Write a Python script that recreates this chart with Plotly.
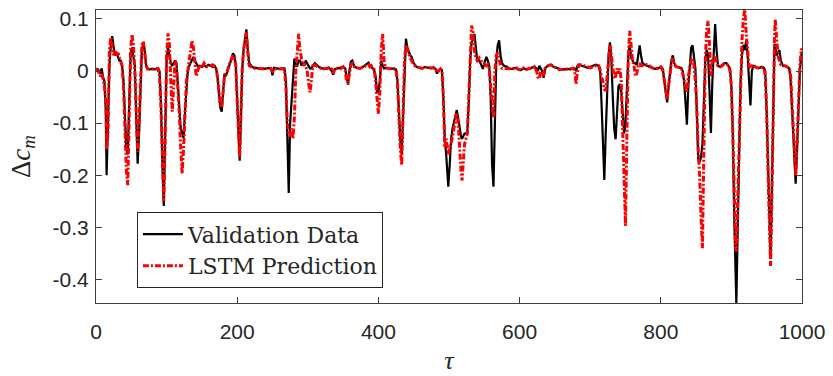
import plotly.graph_objects as go

tau = [0, 3, 6, 8, 10, 12, 14, 15, 17, 19, 21, 23, 25, 27, 29, 31, 33, 35, 37, 39, 41, 43, 45, 47, 49, 51, 53, 55, 57, 59,
       61, 63, 65, 67, 69, 71, 73, 76, 80, 84, 88, 90, 92, 94, 96, 98, 100, 102, 104, 106, 108, 110, 112, 114, 116, 118, 120, 122, 124, 126,
       128, 130, 132, 134, 136, 138, 140, 142, 144, 147, 150, 153, 156, 159, 162, 165, 168, 170, 172, 174, 176, 178, 180, 182, 184, 186, 188, 191, 194, 196,
       198, 200, 202, 203.5, 205, 207, 209, 211, 213, 215, 217, 220, 224, 228, 232, 236, 240, 244, 248, 250, 252, 256, 260, 264, 267, 269, 271, 273, 275, 277,
       279, 281, 283, 285, 287, 289, 291, 293, 295, 297, 299, 301, 303, 305, 307, 310, 314, 318, 322, 326, 330, 334, 336, 338, 342, 346, 350, 353, 355, 357,
       359, 361, 363, 366, 370, 374, 378, 382, 386, 388, 390, 392, 394, 396, 398, 400, 402, 404, 406, 408, 410, 414, 418, 422, 425, 427, 429, 431, 433, 435,
       437, 439, 441, 443, 445, 447, 450, 454, 458, 462, 466, 470, 474, 478, 481, 483, 485, 488, 490, 492, 494, 496, 498, 499, 501, 503, 505, 507, 509, 511,
       513, 515, 517, 518.5, 520, 522, 524, 526, 528, 530, 532, 534, 536, 538, 540, 543, 546, 548, 550, 553, 555, 557, 559, 561, 563, 565, 567, 569, 571, 573,
       575, 578, 582, 586, 590, 594, 598, 602, 606, 610, 614, 618, 621, 624, 626, 628, 630, 632, 634, 636, 640, 644, 648, 652, 656, 660, 664, 668, 672, 676,
       678, 680, 682, 684, 688, 692, 696, 700, 704, 708, 712, 714, 716, 718, 720, 722, 724, 726, 728, 730, 732, 734, 736, 738, 740, 742, 744, 746, 748, 750,
       752, 754, 756, 758, 760, 762, 764, 766, 768, 770, 772, 774, 777, 780, 784, 788, 792, 796, 800, 803, 805, 807, 809, 811, 813, 815, 817, 819, 822, 826,
       829, 831, 833, 835, 837, 839, 841, 843, 845, 847, 849, 851, 853, 855, 857, 859, 861, 863, 865, 867, 869, 871, 873, 875, 877, 879, 881, 884, 887, 890,
       893, 896, 898, 900, 902, 904, 906, 907, 909, 911, 913, 915, 917, 919, 921, 923, 925, 927, 929, 931, 934, 937, 940, 943, 946, 948, 950, 952, 954, 955.5,
       957, 959, 961, 962, 964, 966, 968, 970, 973, 976, 979, 982, 984, 986, 988, 990, 991, 993, 995, 997, 999, 1000]

validation = [0.004, 0.003, -0.005, 0.005, -0.012, -0.02, -0.08, -0.20, -0.10, 0.01, 0.05, 0.067, 0.045, 0.03, 0.035, 0.025, 0.02, 0.02, 0.01, -0.02,
              -0.08, -0.15, -0.16, -0.05, 0.03, 0.045, 0.03, 0.01, -0.09, -0.178, -0.12, -0.02, 0.04, 0.055, 0.04, 0.01, 0.005, 0.003, 0.004, 0.003,
              0.005, 0.0, -0.06, -0.18, -0.259, -0.12, 0.02, 0.045, 0.03, 0.015, 0.01, 0.015, 0.02, 0.015, -0.02, -0.07, -0.11, -0.12, -0.128, -0.08,
              -0.03, 0.0, 0.01, 0.015, 0.02, 0.027, 0.02, 0.015, 0.01, 0.01, 0.008, 0.012, 0.008, 0.012, 0.01, 0.008, 0.01, 0.005, -0.01, -0.04,
              -0.07, -0.078, -0.04, -0.005, -0.01, 0.0, 0.01, 0.02, 0.034, 0.03, 0.01, -0.06, -0.14, -0.172, -0.1, 0.0, 0.04, 0.065, 0.08, 0.04,
              0.015, 0.01, 0.005, 0.006, 0.004, 0.005, 0.004, 0.006, 0.004, -0.008, 0.006, 0.005, 0.004, 0.005, 0.005, -0.02, -0.15, -0.234, -0.1, -0.05,
              0.0, 0.024, 0.01, 0.01, 0.02, 0.02, 0.01, 0.015, 0.01, 0.02, 0.015, 0.01, 0.005, 0.005, 0.01, 0.015, 0.01, 0.005, 0.005, 0.004,
              0.006, 0.0, -0.007, 0.003, 0.005, 0.006, 0.008, 0.005, -0.01, -0.026, 0.0, 0.018, 0.02, 0.008, 0.006, 0.005, 0.008, 0.012, 0.016, 0.01,
              0.008, 0.005, 0.002, -0.01, -0.04, -0.04, -0.02, 0.02, 0.01, 0.005, 0.006, 0.005, 0.004, 0.005, 0.003, -0.02, -0.08, -0.13, -0.16, -0.08,
              0.02, 0.062, 0.045, 0.035, 0.03, 0.027, 0.015, 0.008, 0.006, 0.005, 0.008, 0.006, 0.005, 0.007, 0.004, -0.005, 0.0, 0.003, 0.002, -0.05,
              -0.13, -0.16, -0.2, -0.222, -0.18, -0.13, -0.11, -0.1, -0.085, -0.075, -0.09, -0.11, -0.125, -0.13, -0.125, -0.12, -0.12, -0.116, -0.06, 0.02,
              0.055, 0.06, 0.071, 0.04, 0.02, 0.02, 0.01, 0.004, 0.015, 0.027, 0.02, 0.01, -0.05, -0.18, -0.222, -0.1, 0.02, 0.05, 0.059, 0.03,
              0.015, 0.01, 0.008, 0.004, 0.004, 0.006, 0.004, 0.002, 0.005, 0.003, 0.005, 0.006, 0.008, 0.005, 0.0, 0.01, 0.005, 0.0, -0.013, 0.005,
              0.01, 0.012, 0.008, 0.006, 0.004, 0.003, 0.003, 0.004, 0.003, 0.006, 0.005, 0.0, 0.01, 0.012, 0.01, 0.008, 0.006, 0.008, 0.01, 0.012,
              0.01, 0.005, -0.06, -0.16, -0.209, -0.12, -0.03, 0.03, 0.055, 0.02, -0.05, -0.11, -0.131, -0.08, -0.03, -0.025, -0.04, -0.08, -0.12, -0.10,
              -0.03, 0.03, 0.05, 0.025, 0.02, 0.015, 0.015, 0.012, 0.03, 0.049, 0.03, 0.015, 0.012, 0.01, 0.008, 0.006, 0.004, 0.005, 0.008, 0.004,
              -0.02, -0.045, -0.06, -0.03, 0.0, 0.02, 0.03, 0.015, 0.008, 0.006, 0.006, 0.0, -0.02, -0.06, -0.103, -0.03, 0.02, 0.045, 0.049, 0.02,
              0.005, -0.08, -0.17, -0.175, -0.165, -0.14, -0.04, 0.02, 0.04, 0.03, -0.04, -0.119, -0.02, 0.05, 0.09, 0.04, 0.01, 0.008, 0.012, 0.015,
              0.015, 0.01, 0.005, -0.03, -0.12, -0.28, -0.40, -0.445, -0.3, -0.12, -0.02, 0.03, 0.05, 0.04, 0.059, 0.03, -0.02, -0.066, 0.0, 0.01,
              0.008, 0.006, 0.006, 0.008, 0.006, 0.0, -0.08, -0.2, -0.32, -0.36, -0.25, -0.06, 0.05, 0.05, 0.03, 0.035, 0.04, 0.02, 0.01, 0.01,
              0.008, 0.005, -0.02, -0.08, -0.15, -0.2, -0.216, -0.15, -0.06, 0.0, 0.03, 0.035]

prediction = [0.005, 0.0, -0.01, -0.005, -0.015, -0.03, -0.06, -0.15, -0.12, 0.04, 0.064, 0.05, 0.03, 0.04, 0.03, 0.035, 0.025, 0.02, 0.01, -0.03,
              -0.1, -0.19, -0.219, -0.08, 0.04, 0.07, 0.05, 0.0, -0.08, -0.155, -0.10, 0.0, 0.05, 0.057, 0.03, 0.01, 0.004, 0.003, 0.004, 0.005,
              0.004, -0.01, -0.07, -0.18, -0.25, -0.13, 0.03, 0.072, 0.05, -0.02, -0.078, -0.03, 0.02, 0.01, -0.03, -0.08, -0.15, -0.197, -0.15, -0.07,
              -0.02, 0.0, 0.02, 0.04, 0.058, 0.045, 0.02, -0.01, 0.0, 0.012, 0.006, 0.015, 0.01, 0.008, 0.01, 0.012, 0.008, 0.005, -0.01, -0.04,
              -0.065, -0.07, -0.035, -0.01, -0.005, 0.0, 0.01, 0.02, 0.03, 0.025, 0.01, -0.06, -0.13, -0.165, -0.1, 0.0, 0.04, 0.06, 0.075, 0.035,
              0.01, 0.008, 0.006, 0.005, 0.005, 0.004, 0.005, 0.004, 0.005, 0.0, 0.004, 0.004, 0.005, 0.004, 0.003, -0.03, -0.1, -0.12, -0.125, -0.11,
              -0.13, -0.09, 0.0, 0.04, 0.071, 0.04, 0.02, 0.01, 0.015, 0.01, 0.0, -0.02, -0.041, -0.02, 0.01, 0.012, 0.008, 0.006, 0.004, 0.005,
              0.006, 0.004, -0.005, 0.004, 0.005, 0.004, 0.008, 0.0, -0.02, -0.022, 0.0, 0.012, 0.015, 0.008, 0.006, 0.005, 0.007, 0.01, 0.012, 0.008,
              0.01, 0.005, 0.003, -0.02, -0.06, -0.082, -0.04, 0.04, 0.071, 0.02, 0.006, 0.005, 0.005, 0.004, 0.003, -0.02, -0.09, -0.15, -0.18, -0.07,
              0.02, 0.05, 0.04, 0.035, 0.025, 0.02, 0.012, 0.008, 0.007, 0.005, 0.006, 0.008, 0.006, 0.006, 0.005, -0.003, 0.0, 0.004, 0.0, -0.05,
              -0.147, -0.13, -0.15, -0.16, -0.147, -0.14, -0.125, -0.11, -0.09, -0.08, -0.1, -0.15, -0.19, -0.21, -0.17, -0.14, -0.13, -0.12, -0.05, 0.04,
              0.087, 0.075, 0.04, 0.025, 0.02, 0.025, 0.018, 0.015, 0.014, 0.01, 0.012, 0.005, -0.03, -0.07, -0.09, 0.0, 0.03, 0.035, 0.02, 0.01,
              0.005, 0.005, 0.004, 0.004, 0.004, 0.008, 0.003, 0.002, 0.006, 0.003, 0.005, 0.004, 0.008, 0.0, -0.012, -0.015, 0.0, -0.005, -0.01, 0.005,
              0.01, 0.012, 0.01, 0.005, 0.003, 0.003, 0.004, 0.003, 0.004, 0.005, 0.0, -0.025, 0.0, 0.012, 0.012, 0.01, 0.008, 0.006, 0.008, 0.01,
              0.01, 0.0, -0.005, -0.02, -0.035, -0.038, -0.01, 0.02, 0.05, 0.03, 0.0, -0.015, -0.01, 0.005, -0.005, 0.005, -0.02, -0.12, -0.25, -0.297,
              -0.12, 0.03, 0.077, 0.04, 0.02, 0.01, -0.01, -0.005, 0.01, 0.015, 0.01, 0.01, 0.01, 0.012, 0.01, 0.006, 0.004, 0.006, 0.008, 0.0,
              -0.02, -0.04, -0.055, -0.03, 0.0, 0.015, 0.025, 0.012, 0.008, 0.006, 0.006, -0.005, -0.015, -0.03, -0.04, -0.01, 0.01, 0.02, 0.025, 0.01,
              -0.02, -0.07, -0.15, -0.2, -0.28, -0.34, -0.15, 0.02, 0.08, 0.096, 0.05, -0.01, 0.02, 0.02, 0.03, 0.015, 0.01, 0.008, 0.01, 0.014,
              0.014, 0.01, 0.0, -0.03, -0.12, -0.25, -0.34, -0.346, -0.25, -0.12, -0.02, 0.06, 0.1, 0.118, 0.07, 0.03, 0.01, 0.005, 0.01, 0.012,
              0.008, 0.006, 0.005, 0.006, 0.006, -0.01, -0.08, -0.2, -0.33, -0.374, -0.27, -0.08, 0.06, 0.099, 0.06, 0.03, 0.02, 0.012, 0.01, 0.01,
              0.008, 0.005, -0.01, -0.06, -0.13, -0.18, -0.2, -0.14, -0.05, 0.01, 0.043, 0.04]

x_ticks = [0, 200, 400, 600, 800, 1000]
y_ticks = [-0.4, -0.3, -0.2, -0.1, 0, 0.1]
y_tick_labels = ["-0.4", "-0.3", "-0.2", "-0.1", "0", "0.1"]

fig = go.Figure()
fig.add_trace(go.Scatter(x=tau, y=validation, mode="lines", name="Validation Data",
                         line=dict(color="#000000", width=2.2)))
fig.add_trace(go.Scatter(x=tau, y=prediction, mode="lines", name="LSTM Prediction",
                         line=dict(color="#FF0000", width=3, dash="6px,2px,2px,2px")))

axis_common = dict(showgrid=False, zeroline=False, showline=True, linecolor="#404040", linewidth=1,
                   mirror="ticks", ticks="inside", ticklen=6, tickcolor="#404040",
                   tickfont=dict(family="Liberation Sans, Arial, sans-serif", size=21, color="#262626"))

fig.update_layout(
    width=833, height=376,
    margin=dict(l=96, r=31, t=7, b=68),
    paper_bgcolor="white", plot_bgcolor="white",
    showlegend=True,
    legend=dict(x=0.058, y=0.05, xanchor="left", yanchor="bottom",
                bgcolor="white", bordercolor="#262626", borderwidth=1,
                font=dict(family="DejaVu Serif, serif", size=22, color="#262626"),
                tracegroupgap=0, itemwidth=40),
    xaxis=dict(range=[0, 1000], tickvals=x_ticks, ticklabelstandoff=10,
               title=dict(text="<i>τ</i>", standoff=8,
                          font=dict(family="Liberation Serif, serif", size=26, color="#262626")),
               **axis_common),
    yaxis=dict(range=[-0.445, 0.117], tickvals=y_ticks, ticktext=y_tick_labels, ticklabelstandoff=2,
               title=dict(text="Δ<i>c</i><sub><i>m</i></sub>", standoff=14,
                          font=dict(family="Liberation Serif, serif", size=27, color="#262626")),
               **axis_common),
)

fig.write_html("out.html")
